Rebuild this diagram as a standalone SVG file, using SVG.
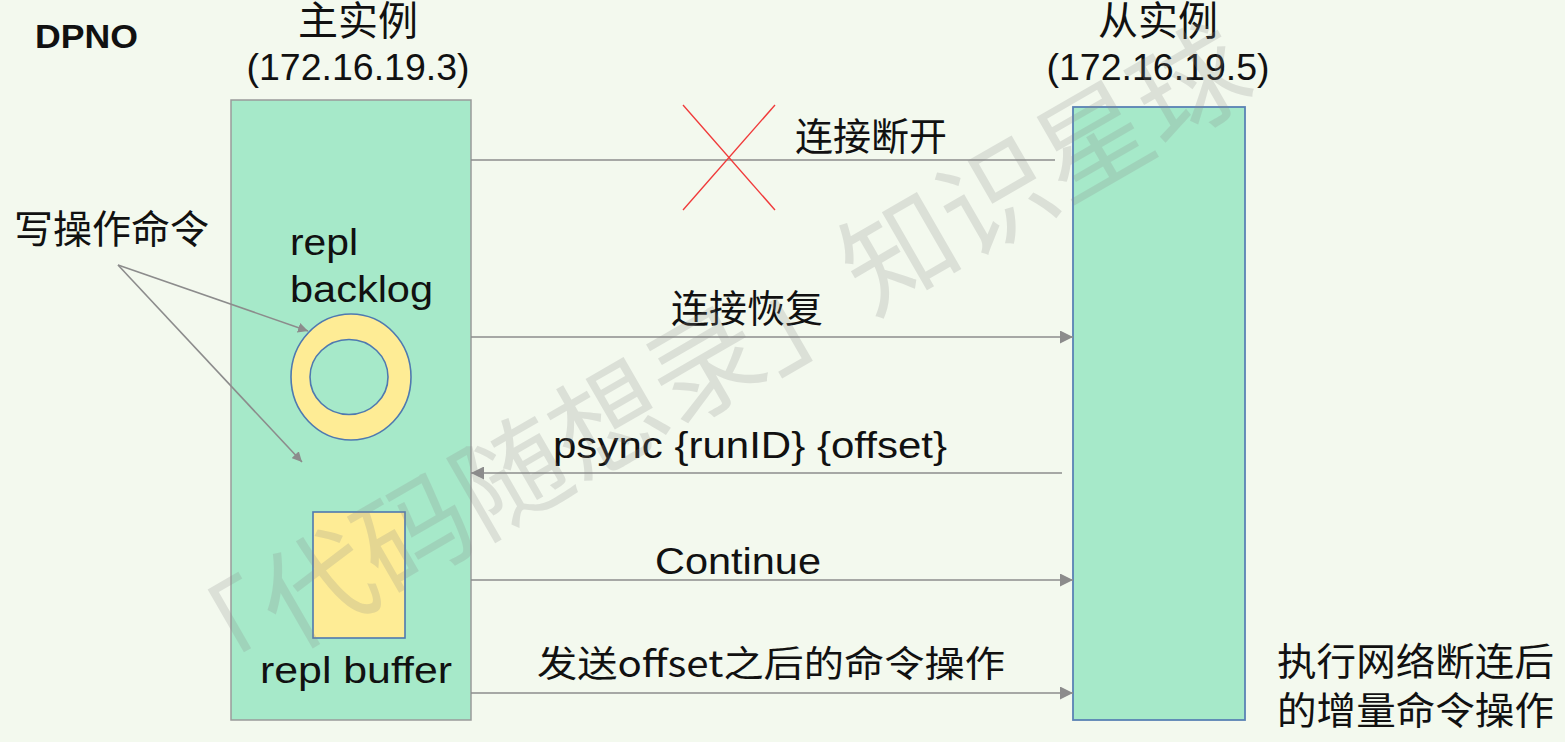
<svg xmlns="http://www.w3.org/2000/svg" width="1565" height="742" viewBox="0 0 1565 742">
<defs>
<style>
.cn{font-family:"Noto Sans CJK SC","Noto Sans",sans-serif;fill:#111;}
.lt{font-family:"Liberation Sans","Noto Sans CJK SC",sans-serif;fill:#111;}
.ln{stroke:#8c8c8c;stroke-width:1.6;fill:none;}
.wm{font-family:"Noto Sans CJK SC",sans-serif;fill:#8a8a8a;opacity:0.22;}
</style>
<marker id="ah" viewBox="0 0 10 10" refX="10" refY="5" markerWidth="10" markerHeight="10" markerUnits="userSpaceOnUse" orient="auto">
<path d="M0,0 L10,5 L0,10 z" fill="#8c8c8c"/>
</marker>
<marker id="ah2" viewBox="0 0 10 10" refX="10" refY="5" markerWidth="13" markerHeight="13" markerUnits="userSpaceOnUse" orient="auto">
<path d="M0,0 L10,5 L0,10 z" fill="#8c8c8c"/>
</marker>
</defs>
<rect x="0" y="0" width="1565" height="742" fill="#f3f9ee"/>

<text class="lt" x="35" y="48" font-size="33" font-weight="bold" textLength="103" lengthAdjust="spacingAndGlyphs">DPNO</text>

<g id="master">
<rect x="231" y="100" width="240" height="620" fill="#a6e9c9" stroke="#9a9a9a" stroke-width="1.5"/>
<text class="cn" x="358" y="35" font-size="40" text-anchor="middle">主实例</text>
<text class="lt" x="358" y="80" font-size="36" text-anchor="middle" textLength="223" lengthAdjust="spacingAndGlyphs">(172.16.19.3)</text>
</g>

<g id="slave">
<rect x="1073" y="107" width="172" height="613" fill="#a6e9c9" stroke="#5a82b4" stroke-width="1.8"/>
<text class="cn" x="1158" y="35" font-size="40" text-anchor="middle">从实例</text>
<text class="lt" x="1158" y="80" font-size="36" text-anchor="middle" textLength="223" lengthAdjust="spacingAndGlyphs">(172.16.19.5)</text>
</g>

<g id="repl-backlog">
<text class="lt" x="290" y="255" font-size="36" textLength="68" lengthAdjust="spacingAndGlyphs">repl</text>
<text class="lt" x="290" y="302" font-size="36" textLength="143" lengthAdjust="spacingAndGlyphs">backlog</text>
<ellipse cx="351" cy="377" rx="60" ry="63" fill="#feec95" stroke="#4f79b0" stroke-width="1.6"/>
<ellipse cx="349" cy="377" rx="39" ry="37.5" fill="#a6e9c9" stroke="#4f79b0" stroke-width="1.6"/>
</g>

<g id="repl-buffer">
<rect x="313" y="512" width="92" height="126" fill="#feec95" stroke="#4f79b0" stroke-width="1.6"/>
<text class="lt" x="260" y="683" font-size="36" textLength="192" lengthAdjust="spacingAndGlyphs">repl buffer</text>
</g>

<g id="write-cmd">
<text class="cn" x="14" y="243" font-size="39">写操作命令</text>
</g>

<g id="slave-note">
<text class="cn" x="1277" y="675" font-size="38" textLength="277" lengthAdjust="spacingAndGlyphs">执行网络断连后</text>
<text class="cn" x="1277" y="724" font-size="38" textLength="277" lengthAdjust="spacingAndGlyphs">的增量命令操作</text>
</g>

<g id="connectors">
<line class="ln" x1="471" y1="160" x2="1055" y2="160"/>
<line x1="683" y1="105" x2="775" y2="210" stroke="#f03a3a" stroke-width="1.4"/>
<line x1="775" y1="105" x2="683" y2="210" stroke="#f03a3a" stroke-width="1.4"/>
<text class="cn" x="795" y="150" font-size="38">连接断开</text>

<line class="ln" x1="471" y1="337" x2="1073" y2="337" marker-end="url(#ah2)"/>
<text class="cn" x="671" y="322" font-size="38">连接恢复</text>

<line class="ln" x1="1062" y1="473" x2="471" y2="473" marker-end="url(#ah2)"/>
<text class="lt" x="553" y="458" font-size="36" textLength="394" lengthAdjust="spacingAndGlyphs">psync {runID} {offset}</text>

<line class="ln" x1="471" y1="580" x2="1073" y2="580" marker-end="url(#ah2)"/>
<text class="lt" x="655" y="574" font-size="37" textLength="166" lengthAdjust="spacingAndGlyphs">Continue</text>

<line class="ln" x1="471" y1="693" x2="1073" y2="693" marker-end="url(#ah2)"/>
<text class="cn" x="537" y="677" font-size="36" textLength="468" lengthAdjust="spacingAndGlyphs">发送offset之后的命令操作</text>

<line class="ln" x1="118" y1="265" x2="308" y2="331" marker-end="url(#ah)"/>
<line class="ln" x1="118" y1="265" x2="302" y2="462" marker-end="url(#ah)"/>
</g>

<text class="wm" x="0" y="0" font-size="112" transform="translate(192,708) rotate(-30)">「代码随想录」知识星球</text>
</svg>
